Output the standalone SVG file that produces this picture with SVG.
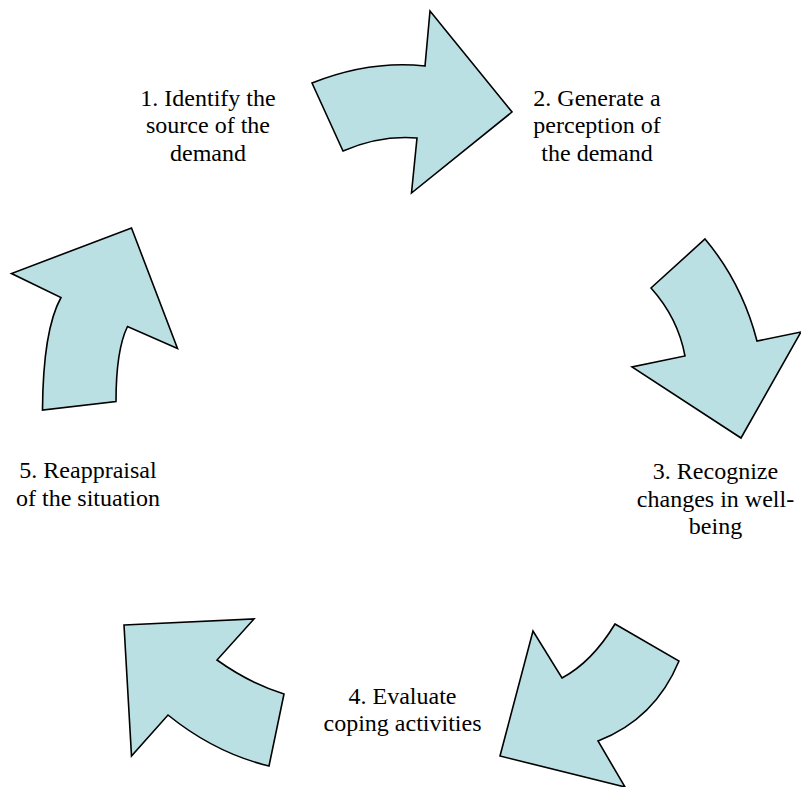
<svg xmlns="http://www.w3.org/2000/svg" width="801" height="787" viewBox="0 0 801 787">
<style>
.arrow{fill:#BBE0E3;stroke:#000;stroke-width:1.6;stroke-linejoin:miter}
.lbl{font-family:'Liberation Serif','Times New Roman',serif;font-size:24px;fill:#000;text-anchor:middle}
</style>
<rect width="801" height="787" fill="#fff"/>
<g id="connectors">
<path id="arrow1" class="arrow" d="M312,83 Q370,60 425,66 L430,11 L512,112 L411.5,193 L417,138 Q380,135 343,151 Z"/>
<path id="arrow2" class="arrow" d="M705,239 Q742,283 757,341 L801,332 L741,438 L632,367 L685,356 Q678,318 651,288 Z"/>
<path id="arrow3" class="arrow" d="M615,624 L679,661 Q655,719 598,741 L625,787 L500,756 L533,631 L562,678 Q592,662 615,624 Z"/>
<path id="arrow4" class="arrow" d="M124,625 L254,619 L217,660 Q249,683 284,694 L269,766 Q215,753 168,715 L131.5,756 Z"/>
<path id="arrow5" class="arrow" d="M131.5,228 L177.5,348.5 L127.5,326.5 Q116,350 116,401.5 L42.5,410 Q43,330 61,297.5 L11.5,273.5 Z"/>
</g>
<g id="node1"><text class="lbl" x="208" y="106">1. Identify the</text><text class="lbl" x="208" y="133">source of the</text><text class="lbl" x="208" y="160.5">demand</text></g>
<g id="node2"><text class="lbl" x="597" y="106">2. Generate a</text><text class="lbl" x="597" y="133">perception of</text><text class="lbl" x="597" y="160.5">the demand</text></g>
<g id="node3"><text class="lbl" x="715.5" y="479">3. Recognize</text><text class="lbl" x="715.5" y="506.5">changes in well-</text><text class="lbl" x="715.5" y="534">being</text></g>
<g id="node4"><text class="lbl" x="402.5" y="703.5">4. Evaluate</text><text class="lbl" x="402.5" y="730.5">coping activities</text></g>
<g id="node5"><text class="lbl" x="88" y="478">5. Reappraisal</text><text class="lbl" x="88" y="505.5">of the situation</text></g>
</svg>
